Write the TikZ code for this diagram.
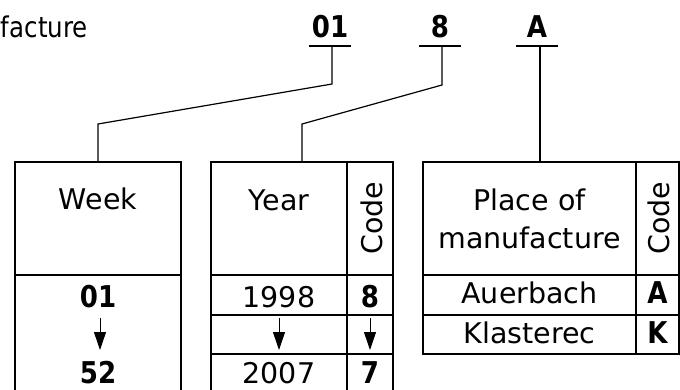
\documentclass[tikz,border=0pt]{standalone}
\usepackage{fontspec}
\setmainfont{DejaVu Sans}
\newfontfamily\boldnarrow[FakeStretch=0.87]{DejaVu Sans Bold}
\usetikzlibrary{arrows.meta}
\begin{document}
\begin{tikzpicture}[x=1pt,y=-1pt,
  txt/.style={font=\fontsize{28.5}{38}\selectfont, inner sep=0pt},
  btxt/.style={font=\fontsize{30}{38}\boldnarrow, inner sep=0pt},
  cell/.style={draw, line width=1.3pt, inner sep=0pt, minimum height=#1},
  lbl/.style={font=\fontsize{30}{38}\boldnarrow, inner sep=0pt, minimum width=42pt, minimum height=0pt, anchor=base},
  conn/.style={line width=1.2pt},
  uline/.style={line width=1.2pt},
  darr/.style={line width=1pt, -{Triangle[width=12pt,length=18pt]}}
]
\useasboundingbox (0,0) rectangle (680,389);
\clip (0,0) rectangle (680,389);

% top label
\node[txt, anchor=base east] (lab) at (88,37) {\scalebox{0.86}[1]{facture}};
\node[lbl] (d01) at (330,37) {01};
\node[lbl] (d8) at (440,37) {8};
\node[lbl] (dA) at (537,37) {A};
\coordinate (u1a) at (309,46); \coordinate (u1b) at (351,46);
\coordinate (u2a) at (419,46); \coordinate (u2b) at (461,46);
\coordinate (u3a) at (516,46); \coordinate (u3b) at (558,46);
\draw[uline] (u1a) -- (u1b);
\draw[uline] (u2a) -- (u2b);
\draw[uline] (u3a) -- (u3b);

% Week table
\node[cell=113pt, minimum width=166pt] (wk) at (98,218.5) {};
\node[txt, anchor=base] at (98,209) {Week};
\node[cell=130pt, minimum width=166pt] (wkb) at (98,340) {};
\node[btxt, anchor=base] (w01) at (98,307) {01};
\node[btxt, anchor=base] (w52) at (98,383) {52};
\coordinate (wa1) at (100,318);
\coordinate (wa2) at (100,350);
\draw[darr] (wa1) -- (wa2);

% Year table
\node[cell=113pt, minimum width=136pt] (yr) at (279,218.5) {};
\node[txt, anchor=base] at (279,210) {Year};
\node[cell=113pt, minimum width=46pt] (yc) at (370,218.5) {};
\node[txt, rotate=90] at (372,218) {Code};
\node[cell=40pt, minimum width=136pt] (yr1) at (279,295) {};
\node[cell=40pt, minimum width=46pt] (yc1) at (370,295) {};
\node[cell=39pt, minimum width=136pt] (yr2) at (279,334.5) {};
\node[cell=39pt, minimum width=46pt] (yc2) at (370,334.5) {};
\node[cell=50pt, minimum width=136pt] (yr3) at (279,379) {};
\node[cell=50pt, minimum width=46pt] (yc3) at (370,379) {};
\node[txt, anchor=base] at (279,307) {1998};
\node[btxt, anchor=base] at (370,307) {8};
\node[txt, anchor=base] at (279,383) {2007};
\node[btxt, anchor=base] at (370,383) {7};
\coordinate (ya1) at (279,318);
\coordinate (ya2) at (279,350);
\coordinate (yb1) at (370,318);
\coordinate (yb2) at (370,350);
\draw[darr] (ya1) -- (ya2);
\draw[darr] (yb1) -- (yb2);

% Place table
\node[cell=113pt, minimum width=213pt] (pl) at (529.5,218.5) {};
\node[txt, align=center, anchor=base] at (529.5,248) {Place of\\manufacture};
\node[cell=113pt, minimum width=43pt] (pc) at (657.5,218.5) {};
\node[txt, rotate=90] at (659,218) {Code};
\node[cell=40pt, minimum width=213pt] (pl1) at (529.5,295) {};
\node[cell=40pt, minimum width=43pt] (pc1) at (657.5,295) {};
\node[cell=39pt, minimum width=213pt] (pl2) at (529.5,334.5) {};
\node[cell=39pt, minimum width=43pt] (pc2) at (657.5,334.5) {};
\node[txt, anchor=base] at (529.5,303) {Auerbach};
\node[btxt, anchor=base] at (657.5,303) {A};
\node[txt, anchor=base] at (529.5,343) {Klasterec};
\node[btxt, anchor=base] at (657.5,343) {K};

% connectors
\coordinate (c1a) at (332,46);
\coordinate (c1b) at (332,84);
\coordinate (c1c) at (98,124);
\draw[conn] (c1a) -- (c1b) -- (c1c) -- (wk.north);
\coordinate (c2a) at (442,46);
\coordinate (c2b) at (442,85);
\coordinate (c2c) at (302,124);
\coordinate (c2d) at (302,162);
\draw[conn] (c2a) -- (c2b) -- (c2c) -- (c2d);
\coordinate (c3a) at (540,46);
\coordinate (c3d) at (540,162);
\draw[conn] (c3a) -- (c3d);
\end{tikzpicture}
\end{document}
